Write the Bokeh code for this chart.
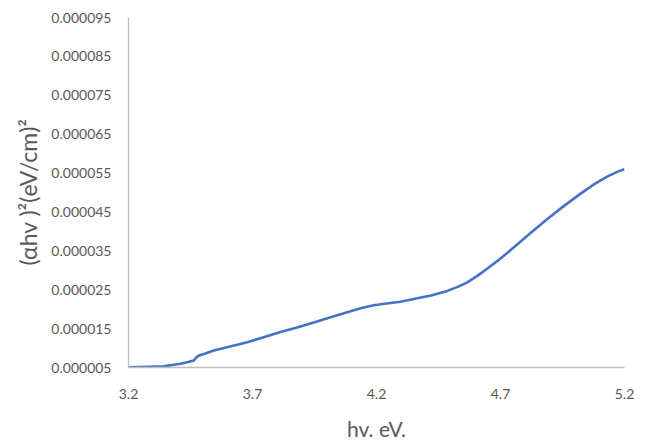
from bokeh.plotting import figure
from bokeh.embed import file_html
from bokeh.resources import INLINE
from bokeh.models import FixedTicker, PrintfTickFormatter, Range1d

# Photon energy (eV) and (alpha h v)^2 values
hv = [3.200, 3.280, 3.341, 3.410, 3.440, 3.463, 3.474, 3.484, 3.510, 3.544,
      3.610, 3.679, 3.745, 3.813, 3.880, 3.947, 4.015, 4.082, 4.140, 4.189,
      4.240, 4.297, 4.350, 4.420, 4.485, 4.530, 4.566, 4.605, 4.646, 4.700,
      4.754, 4.820, 4.889, 4.955, 5.023, 5.080, 5.130, 5.170, 5.200]
ahv2 = [5.08e-6, 5.2e-6, 5.33e-6, 5.95e-6, 6.4e-6, 6.8e-6, 7.6e-6, 8.09e-6,
        8.6e-6, 9.37e-6, 10.4e-6, 11.5e-6, 12.75e-6, 14.1e-6, 15.3e-6,
        16.6e-6, 17.95e-6, 19.2e-6, 20.3e-6, 21.0e-6, 21.45e-6, 21.9e-6,
        22.6e-6, 23.5e-6, 24.7e-6, 25.8e-6, 26.9e-6, 28.5e-6, 30.4e-6,
        33.0e-6, 35.9e-6, 39.5e-6, 43.2e-6, 46.5e-6, 49.7e-6, 52.2e-6,
        54.1e-6, 55.3e-6, 56.0e-6]

x_ticks = [3.2, 3.7, 4.2, 4.7, 5.2]
y_ticks = [0.000005, 0.000015, 0.000025, 0.000035, 0.000045,
           0.000055, 0.000065, 0.000075, 0.000085, 0.000095]

TEXT = "#595959"
AXIS = "#BFBFBF"
FONT = "Lato"

p = figure(width=650, height=446, output_backend="svg", toolbar_location=None,
           x_range=Range1d(3.2, 5.2), y_range=Range1d(0.000005, 0.000095),
           min_border_left=128, min_border_right=26, min_border_top=17,
           min_border_bottom=79)
p.outline_line_color = None
p.xgrid.grid_line_color = None
p.ygrid.grid_line_color = None
p.background_fill_color = "white"
p.border_fill_color = "white"

p.line(hv, ahv2, line_color="#4472C4", line_width=2.6, line_join="round")

for ax in (p.xaxis[0], p.yaxis[0]):
    ax.axis_line_color = AXIS
    ax.axis_line_width = 1.3
    ax.major_tick_line_color = None
    ax.minor_tick_line_color = None
    ax.major_label_text_color = TEXT
    ax.major_label_text_font = FONT
    ax.major_label_text_font_size = "14px"
    ax.axis_label_text_color = TEXT
    ax.axis_label_text_font = FONT
    ax.axis_label_text_font_style = "normal"

p.xaxis[0].ticker = FixedTicker(ticks=x_ticks)
p.xaxis[0].formatter = PrintfTickFormatter(format="%.1f")
p.xaxis[0].major_label_standoff = 15
p.xaxis[0].axis_label = "hv. eV."
p.xaxis[0].axis_label_text_font_size = "21px"
p.xaxis[0].axis_label_standoff = 14

p.yaxis[0].ticker = FixedTicker(ticks=y_ticks)
p.yaxis[0].formatter = PrintfTickFormatter(format="%.6f")
p.yaxis[0].major_label_standoff = 11
p.yaxis[0].axis_label = "(αhv )²(eV/cm)²"
p.yaxis[0].axis_label_text_font_size = "23px"
p.yaxis[0].axis_label_standoff = 6

open("out.html", "w").write(file_html(p, INLINE))
